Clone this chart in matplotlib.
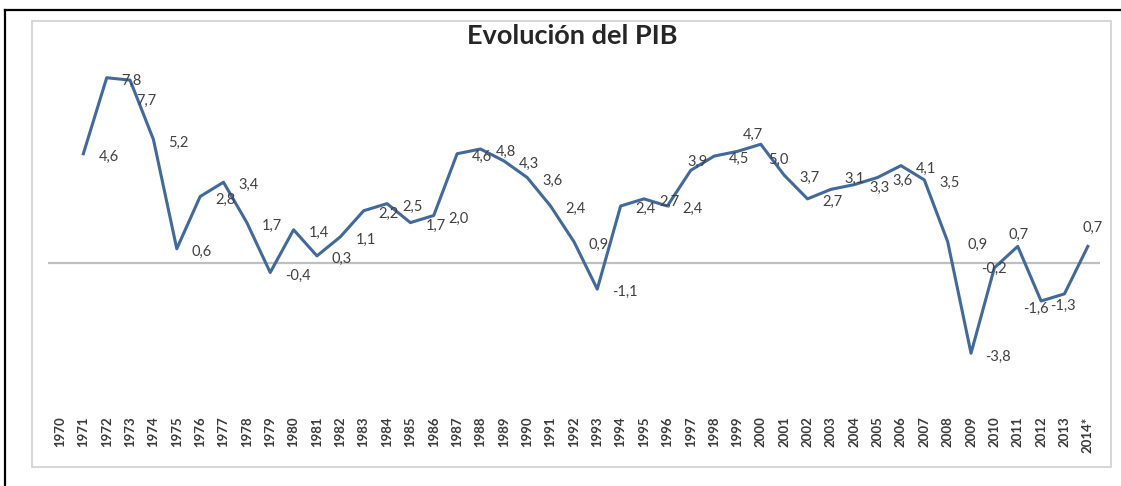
import matplotlib.pyplot as plt
from matplotlib.lines import Line2D
from matplotlib.patches import Rectangle

plt.rcParams['font.family'] = ['Lato', 'DejaVu Sans']

# categorias del eje x (1970 sin dato)
anios = [str(a) for a in range(1970, 2014)] + ['2014*']
# crecimiento del PIB (%), 1971-2014
pib = [4.6, 7.8, 7.7, 5.2, 0.6, 2.8, 3.4, 1.7, -0.4, 1.4,
       0.3, 1.1, 2.2, 2.5, 1.7, 2.0, 4.6, 4.8, 4.3, 3.6,
       2.4, 0.9, -1.1, 2.4, 2.7, 2.4, 3.9, 4.5, 4.7, 5.0,
       3.7, 2.7, 3.1, 3.3, 3.6, 4.1, 3.5, 0.9, -3.8, -0.2,
       0.7, -1.6, -1.3, 0.7]

W, H = 1121, 486
fig = plt.figure(figsize=(W / 100, H / 100), dpi=100)

# marcos (borde negro de la pagina y borde gris del grafico)
fig.add_artist(Line2D([5 / W, 1], [1 - 10 / H, 1 - 10 / H], color='black', lw=1.6))
fig.add_artist(Line2D([5 / W, 5 / W], [0, 1 - 10 / H], color='black', lw=1.6))
fig.add_artist(Rectangle((32 / W, 1 - 467 / H), (1111 - 32) / W, (467 - 21) / H,
                         fill=False, edgecolor='#d0d0d0', lw=1.2))

ax = fig.add_axes([48.3 / W, 1 - 405.5 / H, (1099.5 - 48.3) / W, (405.5 - 25.5) / H])
x = list(range(1, len(pib) + 1))
ax.axhline(0, color='#bfbfbf', lw=1.6, zorder=1)
ax.plot(x, pib, color='#41699a', lw=2.2, zorder=2)

ax.set_xlim(-0.5, len(anios) - 0.5)
ax.set_ylim(-6, 10)
ax.set_xticks(range(len(anios)))
ax.set_xticklabels(anios, rotation=90, fontsize=9.5, fontweight='bold', color='#3a3a3a')
ax.tick_params(axis='x', length=0, pad=8)
ax.set_yticks([])
for s in ax.spines.values():
    s.set_visible(False)

# posicion de las etiquetas (offset en pixeles, ha)
ajustes = {1973: (6, -21, 'left'), 1997: (7, 8, 'center'), 1999: (16, 16, 'center'),
           2000: (7, -16, 'left'), 2003: (14, 10, 'left'), 2008: (20, -3, 'left'),
           2009: (14, -4, 'left'), 2010: (0, -1, 'center'), 2011: (1, 11, 'center'),
           2012: (-5, -8, 'center'), 2013: (-2, -12, 'center'), 2014: (5, 18, 'center')}
for xi, v in zip(x, pib):
    anio = 1970 + xi
    dx, dy, ha = ajustes.get(anio, (15, -3, 'left'))
    ax.annotate(f'{v:.1f}'.replace('.', ','), (xi, v), xytext=(dx, dy),
                textcoords='offset pixels', ha=ha, va='center',
                fontsize=10.5, color='#404040', zorder=3)

fig.text(572 / W, 1 - 36 / H, 'Evolución del PIB', ha='center', va='center',
         fontsize=19.5, fontweight='bold', color='#262626')

fig.savefig('out.png', dpi=100)
